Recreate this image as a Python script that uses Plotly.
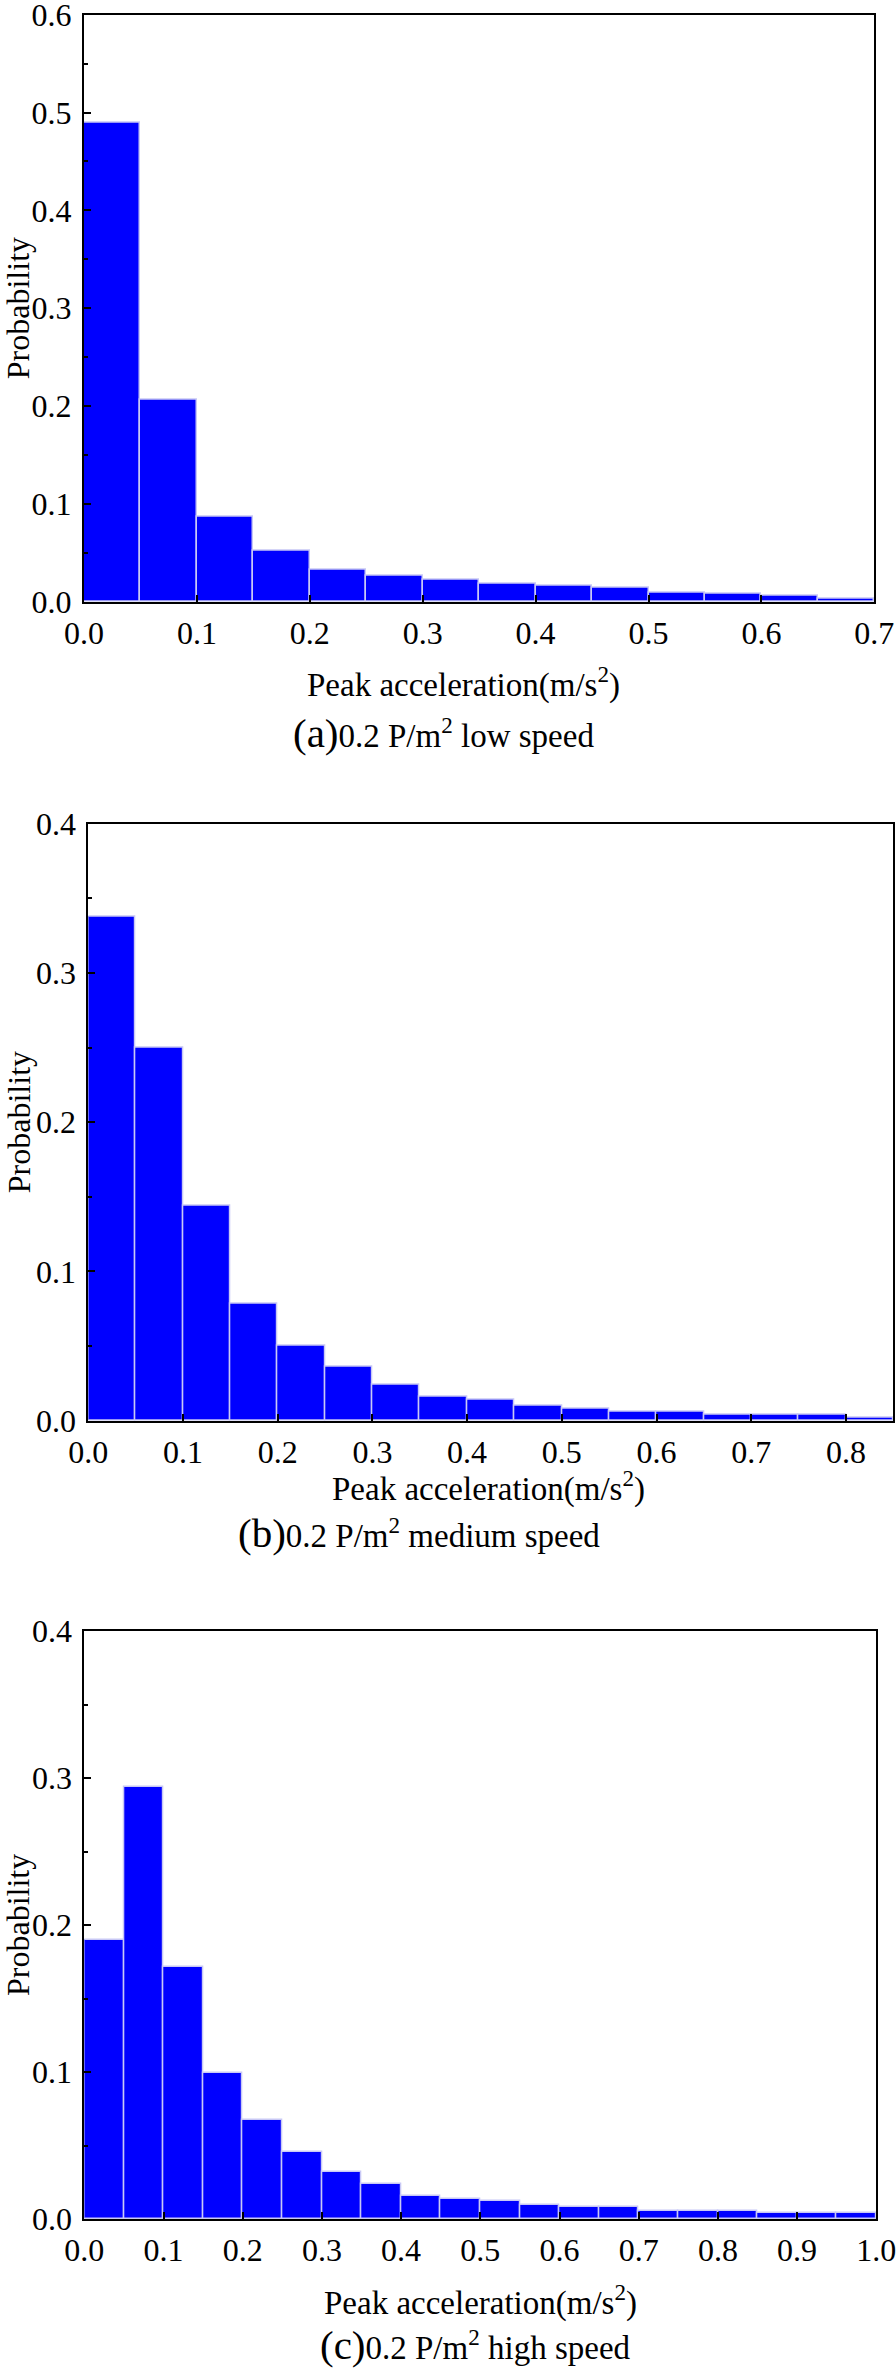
import plotly.graph_objects as go

W, H = 896, 2371

# ---- data ----
bin_width = 0.05
bins_a = [0.00, 0.05, 0.10, 0.15, 0.20, 0.25, 0.30, 0.35, 0.40, 0.45, 0.50, 0.55, 0.60, 0.65]
prob_a = [0.490, 0.206, 0.087, 0.052, 0.033, 0.027, 0.022, 0.018, 0.016, 0.014, 0.0097, 0.0081, 0.0061, 0.0032]

bins_b = [0.00, 0.05, 0.10, 0.15, 0.20, 0.25, 0.30, 0.35, 0.40, 0.45, 0.50, 0.55, 0.60, 0.65, 0.70, 0.75, 0.80]
prob_b = [0.3375, 0.2498, 0.1439, 0.0781, 0.0500, 0.0362, 0.0239, 0.0159, 0.0138, 0.0099, 0.0078, 0.0057, 0.0057, 0.0039, 0.0039, 0.0039, 0.0018]

bins_c = [0.00, 0.05, 0.10, 0.15, 0.20, 0.25, 0.30, 0.35, 0.40, 0.45, 0.50, 0.55, 0.60, 0.65, 0.70, 0.75, 0.80, 0.85, 0.90, 0.95]
prob_c = [0.1899, 0.2939, 0.1717, 0.0996, 0.0676, 0.0457, 0.0323, 0.0240, 0.0158, 0.0134, 0.0120, 0.0093, 0.0079, 0.0079, 0.0055, 0.0055, 0.0055, 0.0038, 0.0038, 0.0038]

x_title = "Peak acceleration(m/s<sup>2</sup>)"
y_title = "Probability"
captions = ["(a)", "(b)", "(c)"]
caption_texts = ["0.2 P/m<sup>2</sup> low speed", "0.2 P/m<sup>2</sup> medium speed", "0.2 P/m<sup>2</sup> high speed"]
x_ranges = [[0, 0.7], [0, 0.85], [0, 1.0]]
y_ranges = [[0, 0.6], [0, 0.4], [0, 0.4]]

# ---- layout geometry (pixels) ----
panels = [
    dict(x0=84, x1=874.3, y0=14.7, y1=601.7, ytx=18, xtx=463, xty=682, capx=443, capy=733),
    dict(x0=88.3, x1=893.3, y0=823.7, y1=1420.7, ytx=19, xtx=488, xty=1486, capx=419, capy=1533),
    dict(x0=84.3, x1=876.3, y0=1631, y1=2219, ytx=18, xtx=481, xty=2300, capx=475, capy=2345),
]

FONT = "Liberation Serif, Times New Roman, serif"
TICK_SIZE = 32
TITLE_SIZE = 33
YTITLE_SIZE = 32
CAP_LETTER_SIZE = 41

fig = go.Figure()
data = [(bins_a, prob_a), (bins_b, prob_b), (bins_c, prob_c)]
for i, (bx, by) in enumerate(data):
    sfx = "" if i == 0 else str(i + 1)
    fig.add_trace(go.Bar(
        x=bx, y=by, width=bin_width, offset=0,
        marker=dict(color="#0000FF", line=dict(color="#C8C8F5", width=1.5)),
        xaxis="x" + sfx, yaxis="y" + sfx, showlegend=False,
    ))

annotations = []
for i, p in enumerate(panels):
    sfx = "" if i == 0 else str(i + 1)
    xa = dict(
        domain=[p["x0"] / W, p["x1"] / W], range=x_ranges[i], anchor="y" + sfx,
        showline=True, linecolor="black", linewidth=2, mirror=True, automargin=False,
        ticks="inside", ticklen=7, tickwidth=2, tickcolor="black",
        tick0=0, dtick=0.1, tickformat=".1f", showgrid=False, zeroline=False,
        ticklabelstandoff=2, ticklabeloverflow="allow",
        tickfont=dict(family=FONT, size=TICK_SIZE, color="black"),
    )
    ya = dict(
        domain=[1 - p["y1"] / H, 1 - p["y0"] / H], range=y_ranges[i], anchor="x" + sfx,
        showline=True, linecolor="black", linewidth=2, mirror=True, automargin=False,
        ticks="inside", ticklen=7, tickwidth=2, tickcolor="black",
        tick0=0, dtick=0.1, tickformat=".1f", showgrid=False, zeroline=False,
        ticklabelstandoff=4, ticklabeloverflow="allow",
        tickfont=dict(family=FONT, size=TICK_SIZE, color="black"),
        minor=dict(ticks="inside", ticklen=4, tickwidth=1.5, tickcolor="black", dtick=0.05, showgrid=False),
    )
    fig.update_layout(**{"xaxis" + sfx: xa, "yaxis" + sfx: ya})

    xref = "x" + sfx + " domain"
    yref = "y" + sfx + " domain"
    pw = p["x1"] - p["x0"]
    ph = p["y1"] - p["y0"]

    def dx(px):
        return (px - p["x0"]) / pw

    def dy(py):
        return (p["y1"] - py) / ph

    annotations.append(dict(
        text=y_title, textangle=-90, x=dx(p["ytx"]), y=dy((p["y0"] + p["y1"]) / 2),
        xref=xref, yref=yref, xanchor="center", yanchor="middle", showarrow=False,
        font=dict(family=FONT, size=YTITLE_SIZE, color="black"),
    ))
    annotations.append(dict(
        text=x_title, x=dx(p["xtx"]), y=dy(p["xty"]),
        xref=xref, yref=yref, xanchor="center", yanchor="middle", showarrow=False,
        font=dict(family=FONT, size=TITLE_SIZE, color="black"),
    ))
    annotations.append(dict(
        text="<span style='font-size:%dpx'>" % CAP_LETTER_SIZE + captions[i] + "</span>" + caption_texts[i],
        x=dx(p["capx"]), y=dy(p["capy"]),
        xref=xref, yref=yref, xanchor="center", yanchor="middle", showarrow=False,
        font=dict(family=FONT, size=TITLE_SIZE, color="black"),
    ))

fig.update_layout(
    width=W, height=H, margin=dict(l=0, r=0, t=0, b=0, autoexpand=False),
    paper_bgcolor="white", plot_bgcolor="white",
    annotations=annotations, bargap=0,
)

fig.write_html(
    "out.html",
    config={"displayModeBar": False},
    post_script="document.body.style.margin='0px';document.documentElement.style.overflow='hidden';",
)
